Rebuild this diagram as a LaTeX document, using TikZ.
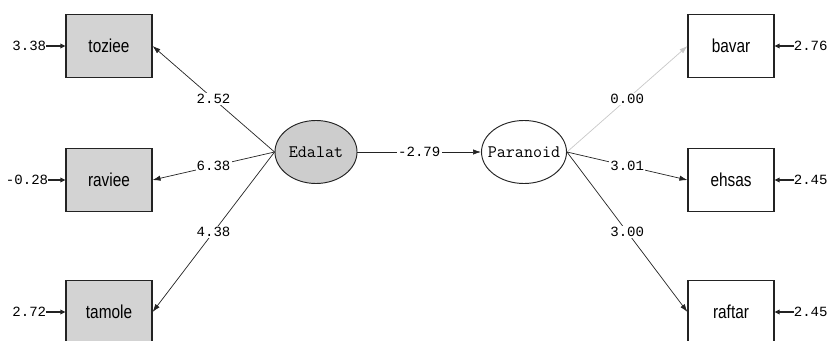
\documentclass[tikz,border=0pt]{standalone}
\usepackage{fontspec}
\usetikzlibrary{shapes.geometric, arrows.meta, positioning}
\newfontfamily\numfont{Liberation Mono}
\newfontfamily\boxfont[FakeStretch=0.82]{Liberation Sans}
\definecolor{obscolor}{RGB}{211, 211, 211}
\definecolor{latcolor}{RGB}{205, 205, 205}
\definecolor{linecolor}{RGB}{35, 35, 35}
\definecolor{fixedcolor}{RGB}{200, 200, 200}

\begin{document}
\begin{tikzpicture}[
    x=0.3mm, y=-0.3mm,
    % Observed variable boxes
    obs/.style={
        rectangle,
        draw=linecolor,
        line width=1pt,
        minimum width=25.8mm,
        minimum height=18.9mm,
        inner sep=0pt,
        font=\boxfont\fontsize{16}{18}\selectfont
    },
    % Latent variable ellipses
    latent/.style={
        ellipse,
        draw=linecolor,
        line width=0.8pt,
        minimum height=18.9mm,
        inner sep=0pt,
        font=\ttfamily\fontsize{15}{17}\selectfont
    },
    % Structural paths and loadings
    loading/.style={
        -{Latex[length=2.4mm, width=1.6mm]},
        line width=0.6pt,
        draw=linecolor
    },
    % t-values on the paths
    coef/.style={
        fill=white,
        text=black,
        inner sep=1pt,
        font=\numfont\fontsize{12}{14}\selectfont
    },
    % Error terms
    err/.style={
        inner sep=0pt,
        font=\numfont\fontsize{12}{14}\selectfont
    },
    errarrow/.style={
        -{Triangle[length=1.5mm, width=1.4mm]},
        line width=1.2pt,
        draw=linecolor
    }
]

\useasboundingbox (0,0) rectangle (830,341);

% ===== LATENT VARIABLES =====
\node[latent, fill=latcolor, minimum width=24.6mm] (edalat) at (316,152) {\makebox[0pt]{Edalat}};
\node[latent, fill=white, minimum width=25.5mm] (paranoid) at (524,152) {\makebox[0pt]{Paranoid}};

% ===== OBSERVED VARIABLES (LEFT) =====
\node[obs, fill=obscolor] (toziee) at (109,46) {toziee};
\node[obs, fill=obscolor] (raviee) at (109,180) {raviee};
\node[obs, fill=obscolor] (tamole) at (109,312) {tamole};

% ===== OBSERVED VARIABLES (RIGHT) =====
\node[obs, fill=white] (bavar) at (731,46) {bavar};
\node[obs, fill=white] (ehsas) at (731,180) {ehsas};
\node[obs, fill=white] (raftar) at (731,312) {raftar};

% ===== PATHS =====
\draw[loading] (edalat.west) -- node[coef] {2.52} (toziee.east);
\draw[loading] (edalat.west) -- node[coef] {6.38} (raviee.east);
\draw[loading] (edalat.west) -- node[coef] {4.38} (tamole.east);

\draw[loading] (edalat.east) -- node[coef] {-2.79} (paranoid.west);

\draw[loading, draw=fixedcolor] (paranoid.east) -- node[coef] {0.00} (bavar.west);
\draw[loading] (paranoid.east) -- node[coef] {3.01} (ehsas.west);
\draw[loading] (paranoid.east) -- node[coef] {3.00} (raftar.west);

% ===== ERROR TERMS =====
\node[err, left=5.7mm of toziee] (etoziee) {3.38};
\node[err, left=5.1mm of raviee] (eraviee) {-0.28};
\node[err, left=5.7mm of tamole] (etamole) {2.72};
\node[err, right=5.7mm of bavar] (ebavar) {2.76};
\node[err, right=5.7mm of ehsas] (eehsas) {2.45};
\node[err, right=5.7mm of raftar] (eraftar) {2.45};

\draw[errarrow] (etoziee) -- (toziee);
\draw[errarrow] (eraviee) -- (raviee);
\draw[errarrow] (etamole) -- (tamole);
\draw[errarrow] (ebavar) -- (bavar);
\draw[errarrow] (eehsas) -- (ehsas);
\draw[errarrow] (eraftar) -- (raftar);

\end{tikzpicture}
\end{document}
